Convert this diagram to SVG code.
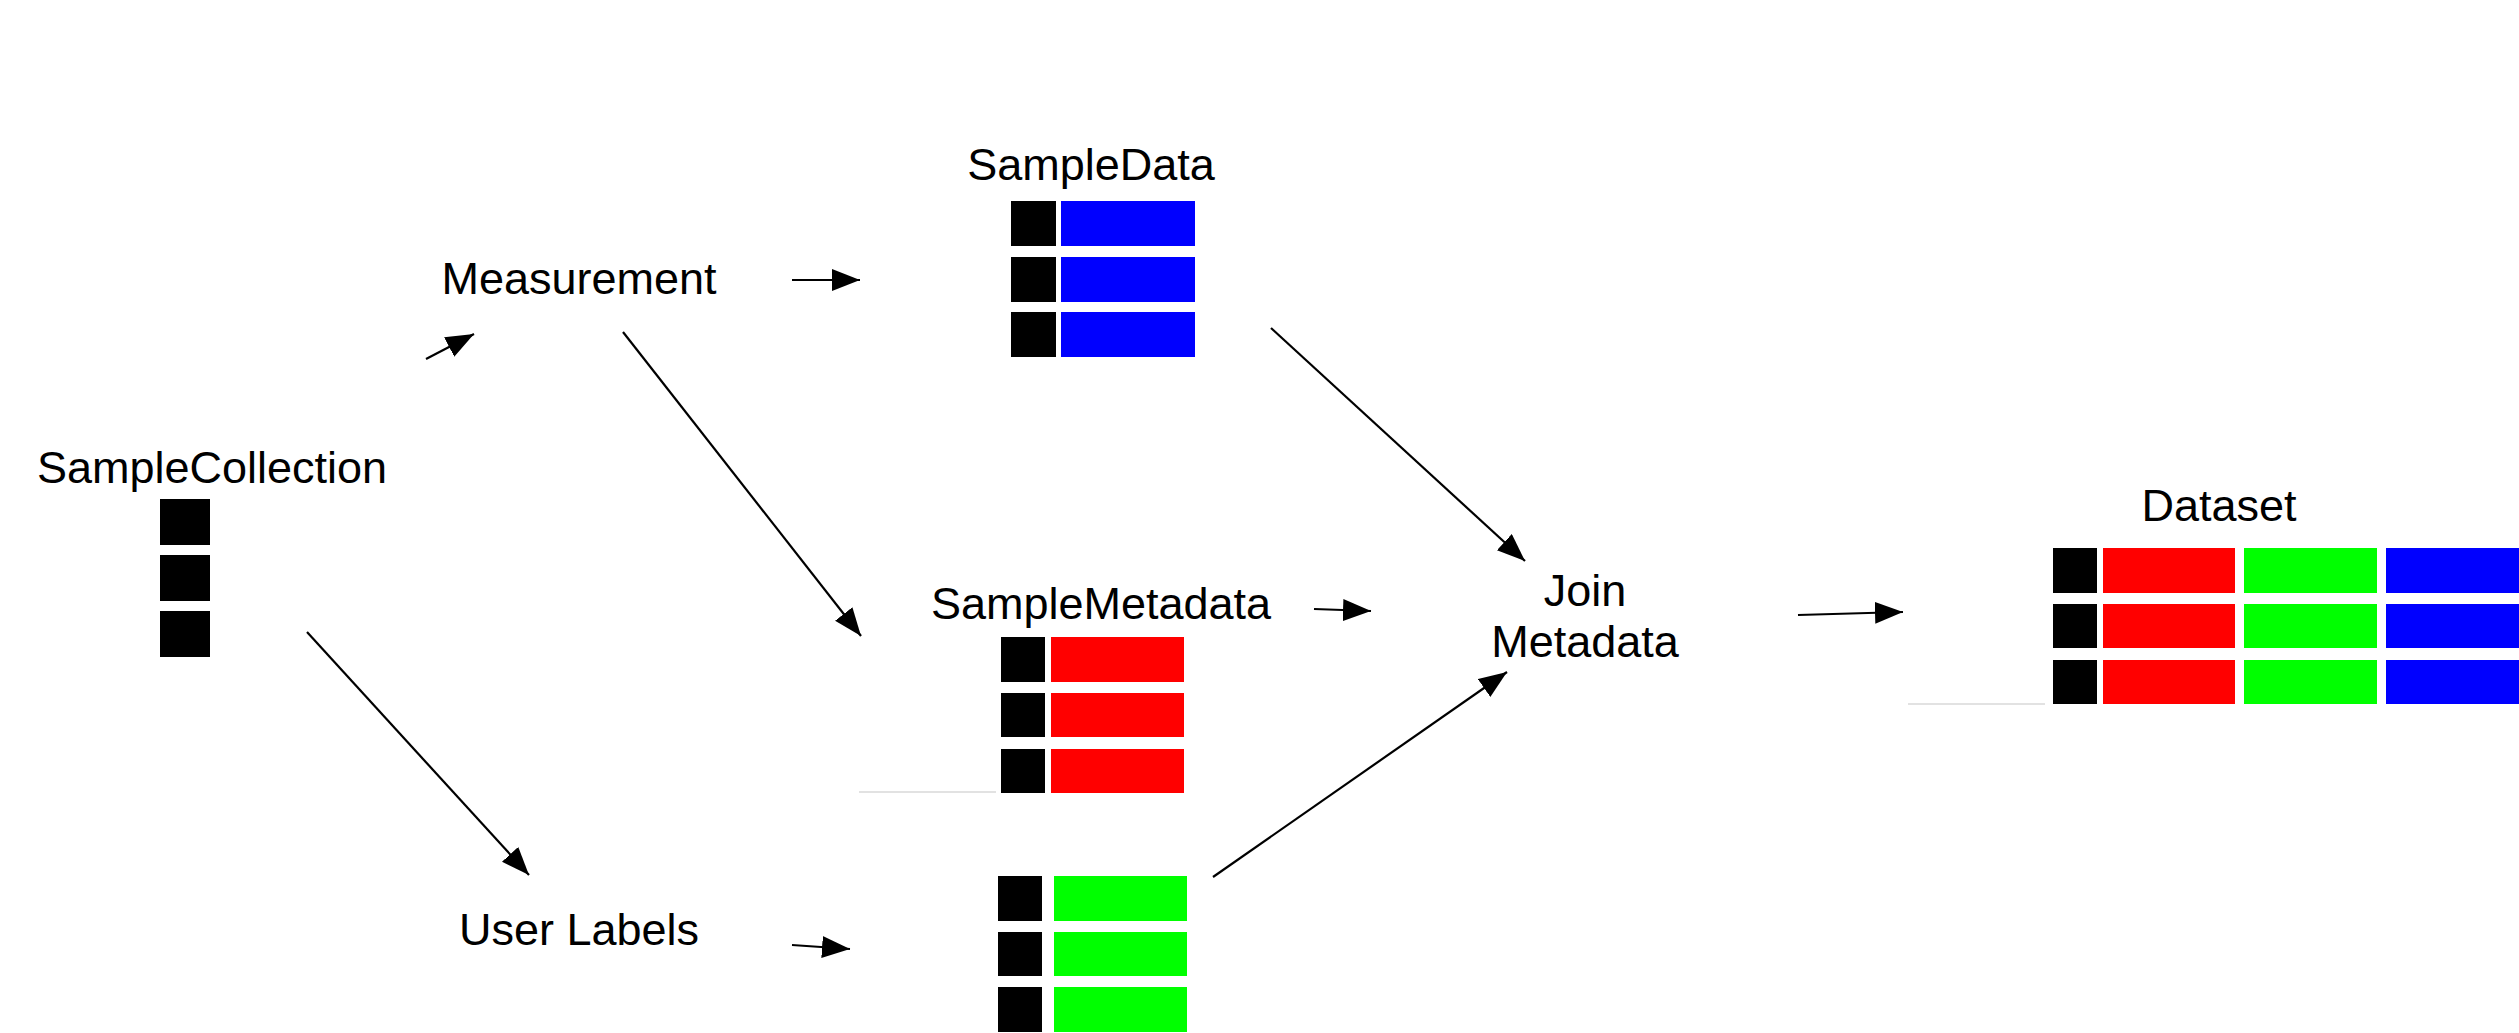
<svg xmlns="http://www.w3.org/2000/svg" width="2519" height="1033" viewBox="0 0 2519 1033">
<style>
.t{font-family:"Liberation Sans",Arial,sans-serif;font-size:45px;fill:#000;text-anchor:middle}
.k{fill:#000}
.r{fill:#ff0000}
.g{fill:#00ff00}
.b{fill:#0000ff}
.c{stroke:#000;stroke-width:2.2;fill:none;marker-end:url(#ah)}
.f{stroke:#d8d8d8;stroke-width:1.5}
</style>
<defs>
<marker id="ah" markerUnits="userSpaceOnUse" markerWidth="30" markerHeight="24" refX="28" refY="11" orient="auto">
<path d="M0,0 L28,11 L0,22 z" fill="#000"/>
</marker>
</defs>
<rect width="2519" height="1033" fill="#fff"/>
<g id="connectors">
<line class="c" x1="426" y1="359" x2="474" y2="334"/>
<line class="c" x1="792" y1="280" x2="860" y2="280"/>
<line class="c" x1="623" y1="332" x2="861" y2="636"/>
<line class="c" x1="307" y1="632" x2="529" y2="875"/>
<line class="c" x1="792" y1="945" x2="850" y2="949"/>
<line class="c" x1="1271" y1="328" x2="1525" y2="561"/>
<line class="c" x1="1314" y1="609" x2="1371" y2="611"/>
<line class="c" x1="1213" y1="877" x2="1507" y2="672"/>
<line class="c" x1="1798" y1="615" x2="1903" y2="612"/>
</g>
<g id="SampleCollection">
<text class="t" x="212" y="483">SampleCollection</text>
<rect class="k" x="160" y="499" width="50" height="46"/>
<rect class="k" x="160" y="555" width="50" height="46"/>
<rect class="k" x="160" y="611" width="50" height="46"/>
</g>
<g id="Measurement">
<text class="t" x="579" y="294">Measurement</text>
</g>
<g id="SampleData">
<text class="t" x="1091" y="180">SampleData</text>
<rect class="k" x="1011" y="201" width="45" height="45"/>
<rect class="b" x="1061" y="201" width="134" height="45"/>
<rect class="k" x="1011" y="257" width="45" height="45"/>
<rect class="b" x="1061" y="257" width="134" height="45"/>
<rect class="k" x="1011" y="312" width="45" height="45"/>
<rect class="b" x="1061" y="312" width="134" height="45"/>
</g>
<g id="SampleMetadata">
<text class="t" x="1101" y="619">SampleMetadata</text>
<rect class="k" x="1001" y="637" width="44" height="45"/>
<rect class="r" x="1051" y="637" width="133" height="45"/>
<rect class="k" x="1001" y="693" width="44" height="44"/>
<rect class="r" x="1051" y="693" width="133" height="44"/>
<rect class="k" x="1001" y="749" width="44" height="44"/>
<rect class="r" x="1051" y="749" width="133" height="44"/>
<line class="f" x1="859" y1="792" x2="996" y2="792"/>
</g>
<g id="UserLabels">
<text class="t" x="579" y="945">User Labels</text>
</g>
<g id="LabelData">
<rect class="k" x="998" y="876" width="44" height="45"/>
<rect class="g" x="1054" y="876" width="133" height="45"/>
<rect class="k" x="998" y="932" width="44" height="44"/>
<rect class="g" x="1054" y="932" width="133" height="44"/>
<rect class="k" x="998" y="987" width="44" height="45"/>
<rect class="g" x="1054" y="987" width="133" height="45"/>
</g>
<g id="JoinMetadata">
<text class="t" x="1585" y="606">Join</text>
<text class="t" x="1585" y="657">Metadata</text>
</g>
<g id="Dataset">
<text class="t" x="2219" y="521">Dataset</text>
<rect class="k" x="2053" y="548" width="44" height="45"/>
<rect class="r" x="2103" y="548" width="132" height="45"/>
<rect class="g" x="2244" y="548" width="133" height="45"/>
<rect class="b" x="2386" y="548" width="133" height="45"/>
<rect class="k" x="2053" y="604" width="44" height="44"/>
<rect class="r" x="2103" y="604" width="132" height="44"/>
<rect class="g" x="2244" y="604" width="133" height="44"/>
<rect class="b" x="2386" y="604" width="133" height="44"/>
<rect class="k" x="2053" y="660" width="44" height="44"/>
<rect class="r" x="2103" y="660" width="132" height="44"/>
<rect class="g" x="2244" y="660" width="133" height="44"/>
<rect class="b" x="2386" y="660" width="133" height="44"/>
<line class="f" x1="1908" y1="704" x2="2045" y2="704"/>
</g>
</svg>
